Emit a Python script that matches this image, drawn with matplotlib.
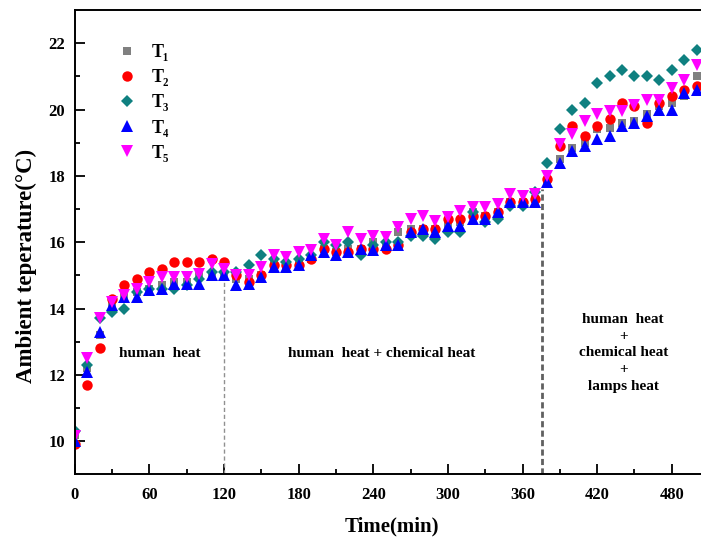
import matplotlib
matplotlib.use('Agg')
import matplotlib.pyplot as plt
import numpy as np

plt.rcParams['font.family'] = ['Liberation Serif', 'DejaVu Serif']
plt.rcParams['font.weight'] = 'bold'

# time axis (min)
time = np.arange(0, 501, 10)

T1 = [10.2, 12.2, 13.2, 14.1, 14.35, 14.5, 14.6, 14.7, 14.8, 14.8,
      15.0, 15.0, 15.0, 14.9, 14.9, 15.0, 15.3, 15.2, 15.3, 15.5,
      15.8, 15.7, 15.8, 15.8, 16.0, 15.9, 16.3, 16.4, 16.4, 16.4,
      16.5, 16.6, 16.9, 16.8, 16.9, 17.2, 17.2, 17.3, 17.85, 18.5,
      18.85, 19.0, 19.4, 19.45, 19.6, 19.65, 19.85, 20.1, 20.2, 20.4,
      21.0]
T2 = [9.9, 11.7, 12.8, 14.3, 14.7, 14.9, 15.1, 15.2, 15.4, 15.4,
      15.4, 15.5, 15.4, 15.0, 14.8, 15.0, 15.3, 15.3, 15.3, 15.5,
      15.8, 15.7, 15.7, 15.8, 15.8, 15.8, 15.9, 16.3, 16.4, 16.4,
      16.7, 16.7, 16.8, 16.8, 16.9, 17.2, 17.2, 17.3, 17.9, 18.9,
      19.5, 19.2, 19.5, 19.7, 20.2, 20.1, 19.6, 20.2, 20.4, 20.6,
      20.7]
T3 = [10.3, 12.3, 13.7, 13.9, 14.0, 14.5, 14.6, 14.6, 14.6, 14.7,
      14.9, 15.1, 15.1, 15.1, 15.3, 15.6, 15.5, 15.4, 15.5, 15.6,
      16.0, 15.9, 16.0, 15.6, 15.9, 16.0, 16.0, 16.2, 16.2, 16.1,
      16.3, 16.3, 16.9, 16.6, 16.7, 17.1, 17.1, 17.5, 18.4, 19.4,
      20.0, 20.2, 20.8, 21.0, 21.2, 21.0, 21.0, 20.9, 21.2, 21.5,
      21.8]
T4 = [10.0, 12.1, 13.3, 14.1, 14.35, 14.35, 14.55, 14.6, 14.75, 14.75,
      14.75, 15.0, 15.0, 14.7, 14.75, 14.95, 15.25, 15.25, 15.3, 15.6,
      15.7, 15.6, 15.7, 15.8, 15.75, 15.9, 15.9, 16.3, 16.4, 16.3,
      16.5, 16.5, 16.7, 16.7, 16.9, 17.2, 17.2, 17.2, 17.8, 18.4,
      18.75, 18.9, 19.1, 19.2, 19.5, 19.6, 19.8, 20.0, 20.0, 20.5,
      20.6]
T5 = [10.15, 12.5, 13.7, 14.2, 14.4, 14.6, 14.8, 14.95, 14.95, 14.95,
      15.05, 15.35, 15.2, 15.0, 15.0, 15.25, 15.6, 15.55, 15.7, 15.75,
      16.1, 15.9, 16.3, 16.1, 16.2, 16.15, 16.45, 16.7, 16.8, 16.65,
      16.75, 16.95, 17.05, 17.05, 17.15, 17.45, 17.4, 17.45, 18.0, 18.95,
      19.25, 19.65, 19.85, 19.95, 19.95, 20.15, 20.3, 20.3, 20.65, 20.9,
      21.35]

labels = ['T\u2081', 'T\u2082', 'T\u2083', 'T\u2084', 'T\u2085']

# phase boundaries (min)
phase1_end = 120
phase2_end = 376

fig = plt.figure(figsize=(7.01, 5.39), dpi=100)
ax = fig.add_axes([0.1066, 0.12, 0.905, 0.8614])

styles = [
    dict(marker='s', color='#808080', ms=5.5),
    dict(marker='o', color='#ff0000', ms=7.5),
    dict(marker='D', color='#0f8080', ms=6.5),
    dict(marker='^', color='#0000ff', ms=8),
    dict(marker='v', color='#ff00ff', ms=8),
]
for series, lab, st in zip([T1, T2, T3, T4, T5], labels, styles):
    ax.plot(time, series, linestyle='none', marker=st['marker'], color=st['color'],
            markersize=st['ms'], markeredgewidth=0, label=lab)

ax.plot([phase1_end, phase1_end], [9, 14.8], color='#909090', lw=1.0,
        dashes=(3, 2))
ax.plot([phase2_end, phase2_end], [9, 17.6], color='#606060', lw=2.0,
        dashes=(2.2, 1.2))

ax.text(68, 12.64, 'human  heat', ha='center', va='center', fontsize=11,
        fontweight='bold')
ax.text(247, 12.64, 'human  heat + chemical heat', ha='center', va='center',
        fontsize=11, fontweight='bold')
ax.text(441, 12.66, 'human  heat\n+\nchemical heat\n+\nlamps heat',
        ha='center', va='center', ma='center', fontsize=11, fontweight='bold',
        linespacing=1.38)

ax.set_xlim(0, 510)
ax.set_ylim(9, 23)
ax.set_xticks(np.arange(0, 481, 60))
ax.set_xticks(np.arange(30, 510, 60), minor=True)
ax.set_yticks(np.arange(10, 23, 2))
ax.set_yticks(np.arange(11, 23, 2), minor=True)

ax.tick_params(which='both', direction='in', width=1.3, labelsize=12)
ax.tick_params(which='major', length=7)
ax.tick_params(which='minor', length=3.5)
ax.tick_params(axis='x', pad=9)
ax.tick_params(axis='y', pad=7)
for lab in ax.get_xticklabels() + ax.get_yticklabels():
    lab.set_fontweight('bold')
for sp in ax.spines.values():
    sp.set_linewidth(1.4)

ax.set_xlabel('Time(min)', fontsize=15, fontweight='bold', labelpad=10)
ax.set_ylabel('Ambient teperature(\u00b0C)', fontsize=16.5, fontweight='bold')
ax.yaxis.set_label_coords(-0.060, 0.449)

ax.legend(loc='upper left', bbox_to_anchor=(0.042, 0.942), frameon=False,
          prop={'size': 13, 'weight': 'bold'}, handletextpad=0.4,
          labelspacing=0.45, borderaxespad=0)

fig.savefig('out.png', dpi=100)
